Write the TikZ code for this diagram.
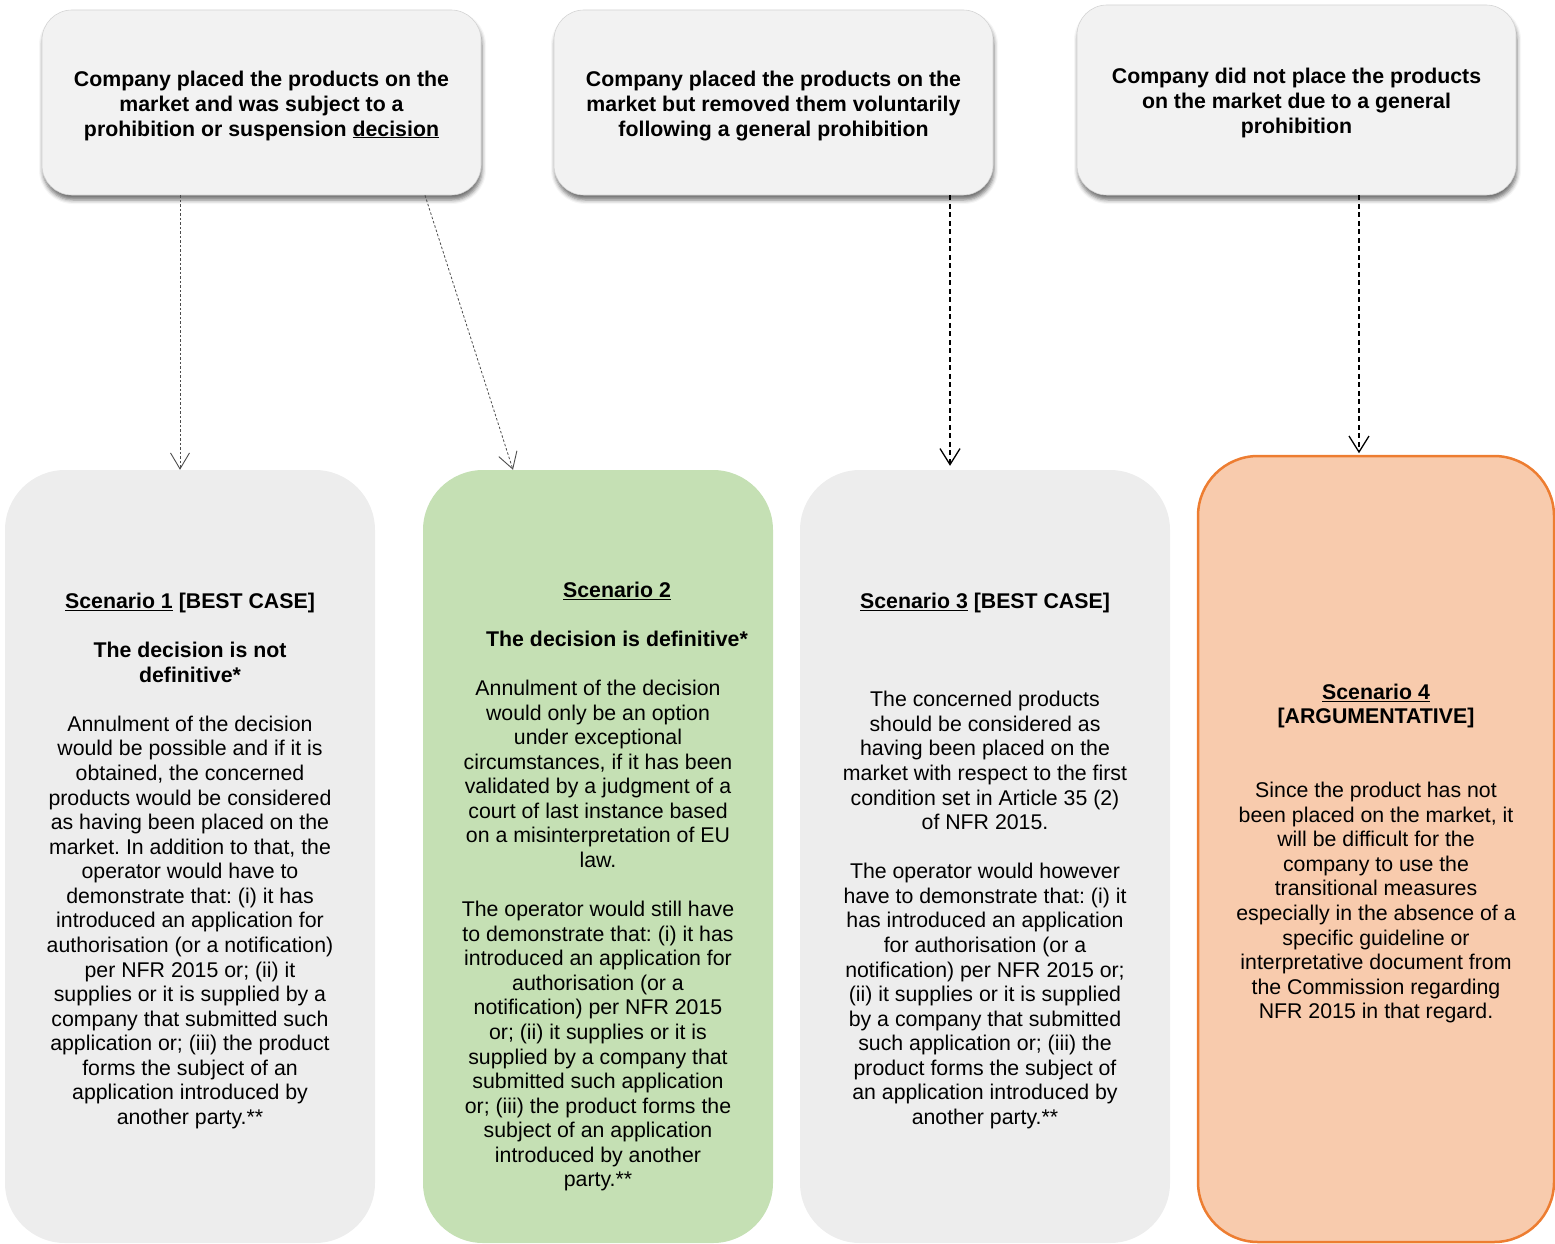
\documentclass[tikz,border=0pt]{standalone}
\usepackage{fontspec}
\setmainfont{Liberation Sans}
\usetikzlibrary{arrows.meta,shadows.blur}

\definecolor{topfill}{HTML}{F2F2F2}
\definecolor{topline}{HTML}{D4D4D4}
\definecolor{scengray}{HTML}{EDEDED}
\definecolor{scengreen}{HTML}{C5E0B4}
\definecolor{scenorange}{HTML}{F8CBAD}
\definecolor{orangeline}{HTML}{ED7D31}

\frenchspacing
\newcommand{\diagfont}{\fontsize{21.3}{24.57}\selectfont}
\newcommand{\gap}{\\[24.57pt]}

\tikzset{
    place/.style={draw=topline, line width=0.6pt, fill=topfill, rounded corners=30pt,
        minimum width=439pt, minimum height=185pt, align=center, font=\diagfont\bfseries,
        blur shadow={shadow xshift=1pt, shadow yshift=-5pt, shadow blur radius=4pt, shadow opacity=55}},
    scen/.style={rounded corners=60pt, minimum width=370pt, minimum height=773pt},
    bodytext/.style={align=center, inner sep=0pt, font=\diagfont},
    thinlink/.style={draw=black!70, line width=0.8pt, dash pattern=on 2.5pt off 2pt,
        -{Straight Barb[length=16pt,width=19pt,line width=0.9pt]}},
    thicklink/.style={draw=black, line width=1.4pt, dash pattern=on 5pt off 3.5pt,
        -{Straight Barb[length=16pt,width=20pt,line width=1.3pt]}}
}

\begin{document}
\begin{tikzpicture}[x=1pt, y=-1pt]
    \useasboundingbox (0,0) rectangle (1555,1244);

    % situations at the top
    \node[place] (place1) at (261.5,102.5) {};
    \node[place] (place2) at (773.5,102.5) {};
    \node[place, minimum height=190pt] (place3) at (1296.5,100) {};
    \node[bodytext, font=\diagfont\bfseries] (head1) at (261.5,106) {Company placed the products on the\\
        market and was subject to a\\ prohibition or suspension \underline{decision}};
    \node[bodytext, font=\diagfont\bfseries] (head2) at (773.5,106) {Company placed the products on the\\
        market but removed them voluntarily\\ following a general prohibition};
    \node[bodytext, font=\diagfont\bfseries] (head3) at (1296.5,103) {Company did not place the products\\
        on the market due to a general\\ prohibition};

    % scenarios
    \node[scen, fill=scengray] (scen1) at (190,856.5) {};
    \node[scen, fill=scengreen, minimum width=350pt] (scen2) at (598,856.5) {};
    \node[scen, fill=scengray] (scen3) at (985,856.5) {};
    \node[scen, fill=scenorange, draw=orangeline, line width=2.5pt,
        minimum width=356pt, minimum height=786pt] (scen4) at (1376,849) {};

    \node[bodytext] (text1) at (190,861) {\textbf{\underline{Scenario 1} [BEST CASE]}\gap
        \textbf{The decision is not}\\ \textbf{definitive*}\gap
        Annulment of the decision\\ would be possible and if it is\\ obtained, the concerned\\
        products would be considered\\ as having been placed on the\\ market. In addition to that, the\\
        operator would have to\\ demonstrate that: (i) it has\\ introduced an application for\\
        authorisation (or a notification)\\ per NFR 2015 or; (ii) it\\ supplies or it is supplied by a\\
        company that submitted such\\ application or; (iii) the product\\ forms the subject of an\\
        application introduced by\\ another party.**};

    \node[bodytext] (text2) at (598,886.5) {\hspace*{38pt}\textbf{\underline{Scenario 2}}\gap
        \hspace*{38pt}\textbf{The decision is definitive*}\gap
        Annulment of the decision\\ would only be an option\\ under exceptional\\
        circumstances, if it has been\\ validated by a judgment of a\\ court of last instance based\\
        on a misinterpretation of EU\\ law.\gap
        The operator would still have\\ to demonstrate that: (i) it has\\ introduced an application for\\
        authorisation (or a\\ notification) per NFR 2015\\ or; (ii) it supplies or it is\\
        supplied by a company that\\ submitted such application\\ or; (iii) the product forms the\\
        subject of an application\\ introduced by another\\ party.**};

    \node[bodytext] (text3) at (985,861) {\textbf{\underline{Scenario 3} [BEST CASE]}\\[73.71pt]
        The concerned products\\ should be considered as\\ having been placed on the\\
        market with respect to the first\\ condition set in Article 35 (2)\\ of NFR 2015.\gap
        The operator would however\\ have to demonstrate that: (i) it\\ has introduced an application\\
        for authorisation (or a\\ notification) per NFR 2015 or;\\ (ii) it supplies or it is supplied\\
        by a company that submitted\\ such application or; (iii) the\\ product forms the subject of\\
        an application introduced by\\ another party.**};

    \node[bodytext] (text4) at (1376,853.5) {\textbf{\underline{Scenario 4}}\\ \textbf{[ARGUMENTATIVE]}\\[49.14pt]
        Since the product has not\\ been placed on the market, it\\ will be difficult for the\\
        company to use the\\ transitional measures\\ especially in the absence of a\\
        specific guideline or\\ interpretative document from\\ the Commission regarding\\
        NFR 2015 in that regard.};

    % links
    \draw[thinlink] ([xshift=-81.5pt]place1.south) -- ([xshift=-10pt]scen1.north);
    \draw[thinlink] ([xshift=163.5pt]place1.south) -- ([xshift=-85pt]scen2.north);
    \draw[thicklink] ([xshift=176.5pt]place2.south) -- ([xshift=-35pt,yshift=4pt]scen3.north);
    \draw[thicklink] ([xshift=62.5pt]place3.south) -- ([xshift=-17pt,yshift=1.5pt]scen4.north);

\end{tikzpicture}
\end{document}
